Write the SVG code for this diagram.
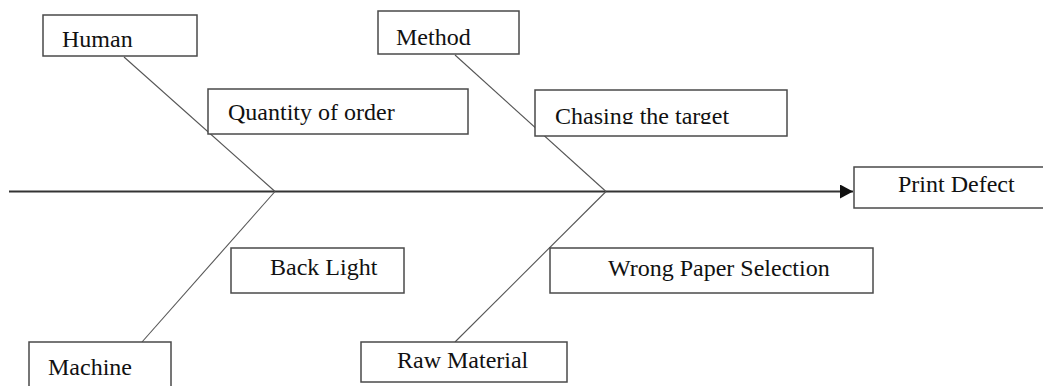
<svg xmlns="http://www.w3.org/2000/svg" width="1043" height="386" viewBox="0 0 1043 386">
  <style>
    .box { fill: #ffffff; stroke: #4a4a4a; stroke-width: 1.5; }
    .lbl { font-family: "Liberation Serif", "Times New Roman", serif; font-size: 24px; fill: #111111; }
    .bone { fill: none; stroke: #555555; stroke-width: 1.1; }
    .spine { fill: none; stroke: #333333; stroke-width: 2; }
  </style>
  <defs>
    <marker id="arrow" markerUnits="userSpaceOnUse" markerWidth="14" markerHeight="14" refX="13" refY="7" orient="auto">
      <path d="M0,0 L13,7 L0,14 Z" fill="#111111"/>
    </marker>
    <clipPath id="clipChasing">
      <rect x="535" y="90" width="252" height="34"/>
    </clipPath>
  </defs>
  <rect width="1043" height="386" fill="#ffffff"/>

  <!-- spine and bones -->
  <g id="connectors">
    <line class="spine" x1="9" y1="191.5" x2="853" y2="191.5" marker-end="url(#arrow)"/>
    <line class="bone" x1="124" y1="57" x2="275" y2="191.5"/>
    <line class="bone" x1="275" y1="191.5" x2="142" y2="342"/>
    <line class="bone" x1="455" y1="55" x2="606" y2="191.5"/>
    <line class="bone" x1="606" y1="191.5" x2="455" y2="342"/>
  </g>

  <g id="human">
    <rect class="box" x="43" y="15" width="154" height="41"/>
    <text class="lbl" x="62" y="47">Human</text>
  </g>
  <g id="method">
    <rect class="box" x="378" y="11" width="141" height="43"/>
    <text class="lbl" x="396" y="45">Method</text>
  </g>
  <g id="quantity-of-order">
    <rect class="box" x="208" y="89" width="260" height="45"/>
    <text class="lbl" x="228" y="120">Quantity of order</text>
  </g>
  <g id="chasing-the-target">
    <rect class="box" x="535" y="90" width="252" height="46"/>
    <text class="lbl" x="555" y="124" clip-path="url(#clipChasing)">Chasing the target</text>
  </g>
  <g id="print-defect">
    <rect class="box" x="854" y="167" width="195" height="41"/>
    <text class="lbl" x="898" y="192">Print Defect</text>
  </g>
  <g id="back-light">
    <rect class="box" x="231" y="248" width="173" height="45"/>
    <text class="lbl" x="270" y="275">Back Light</text>
  </g>
  <g id="wrong-paper-selection">
    <rect class="box" x="550" y="248" width="323" height="45"/>
    <text class="lbl" x="608" y="276">Wrong Paper Selection</text>
  </g>
  <g id="machine">
    <rect class="box" x="29" y="342" width="142" height="50"/>
    <text class="lbl" x="48" y="375">Machine</text>
  </g>
  <g id="raw-material">
    <rect class="box" x="361" y="342" width="206" height="40"/>
    <text class="lbl" x="397" y="368">Raw Material</text>
  </g>
</svg>
